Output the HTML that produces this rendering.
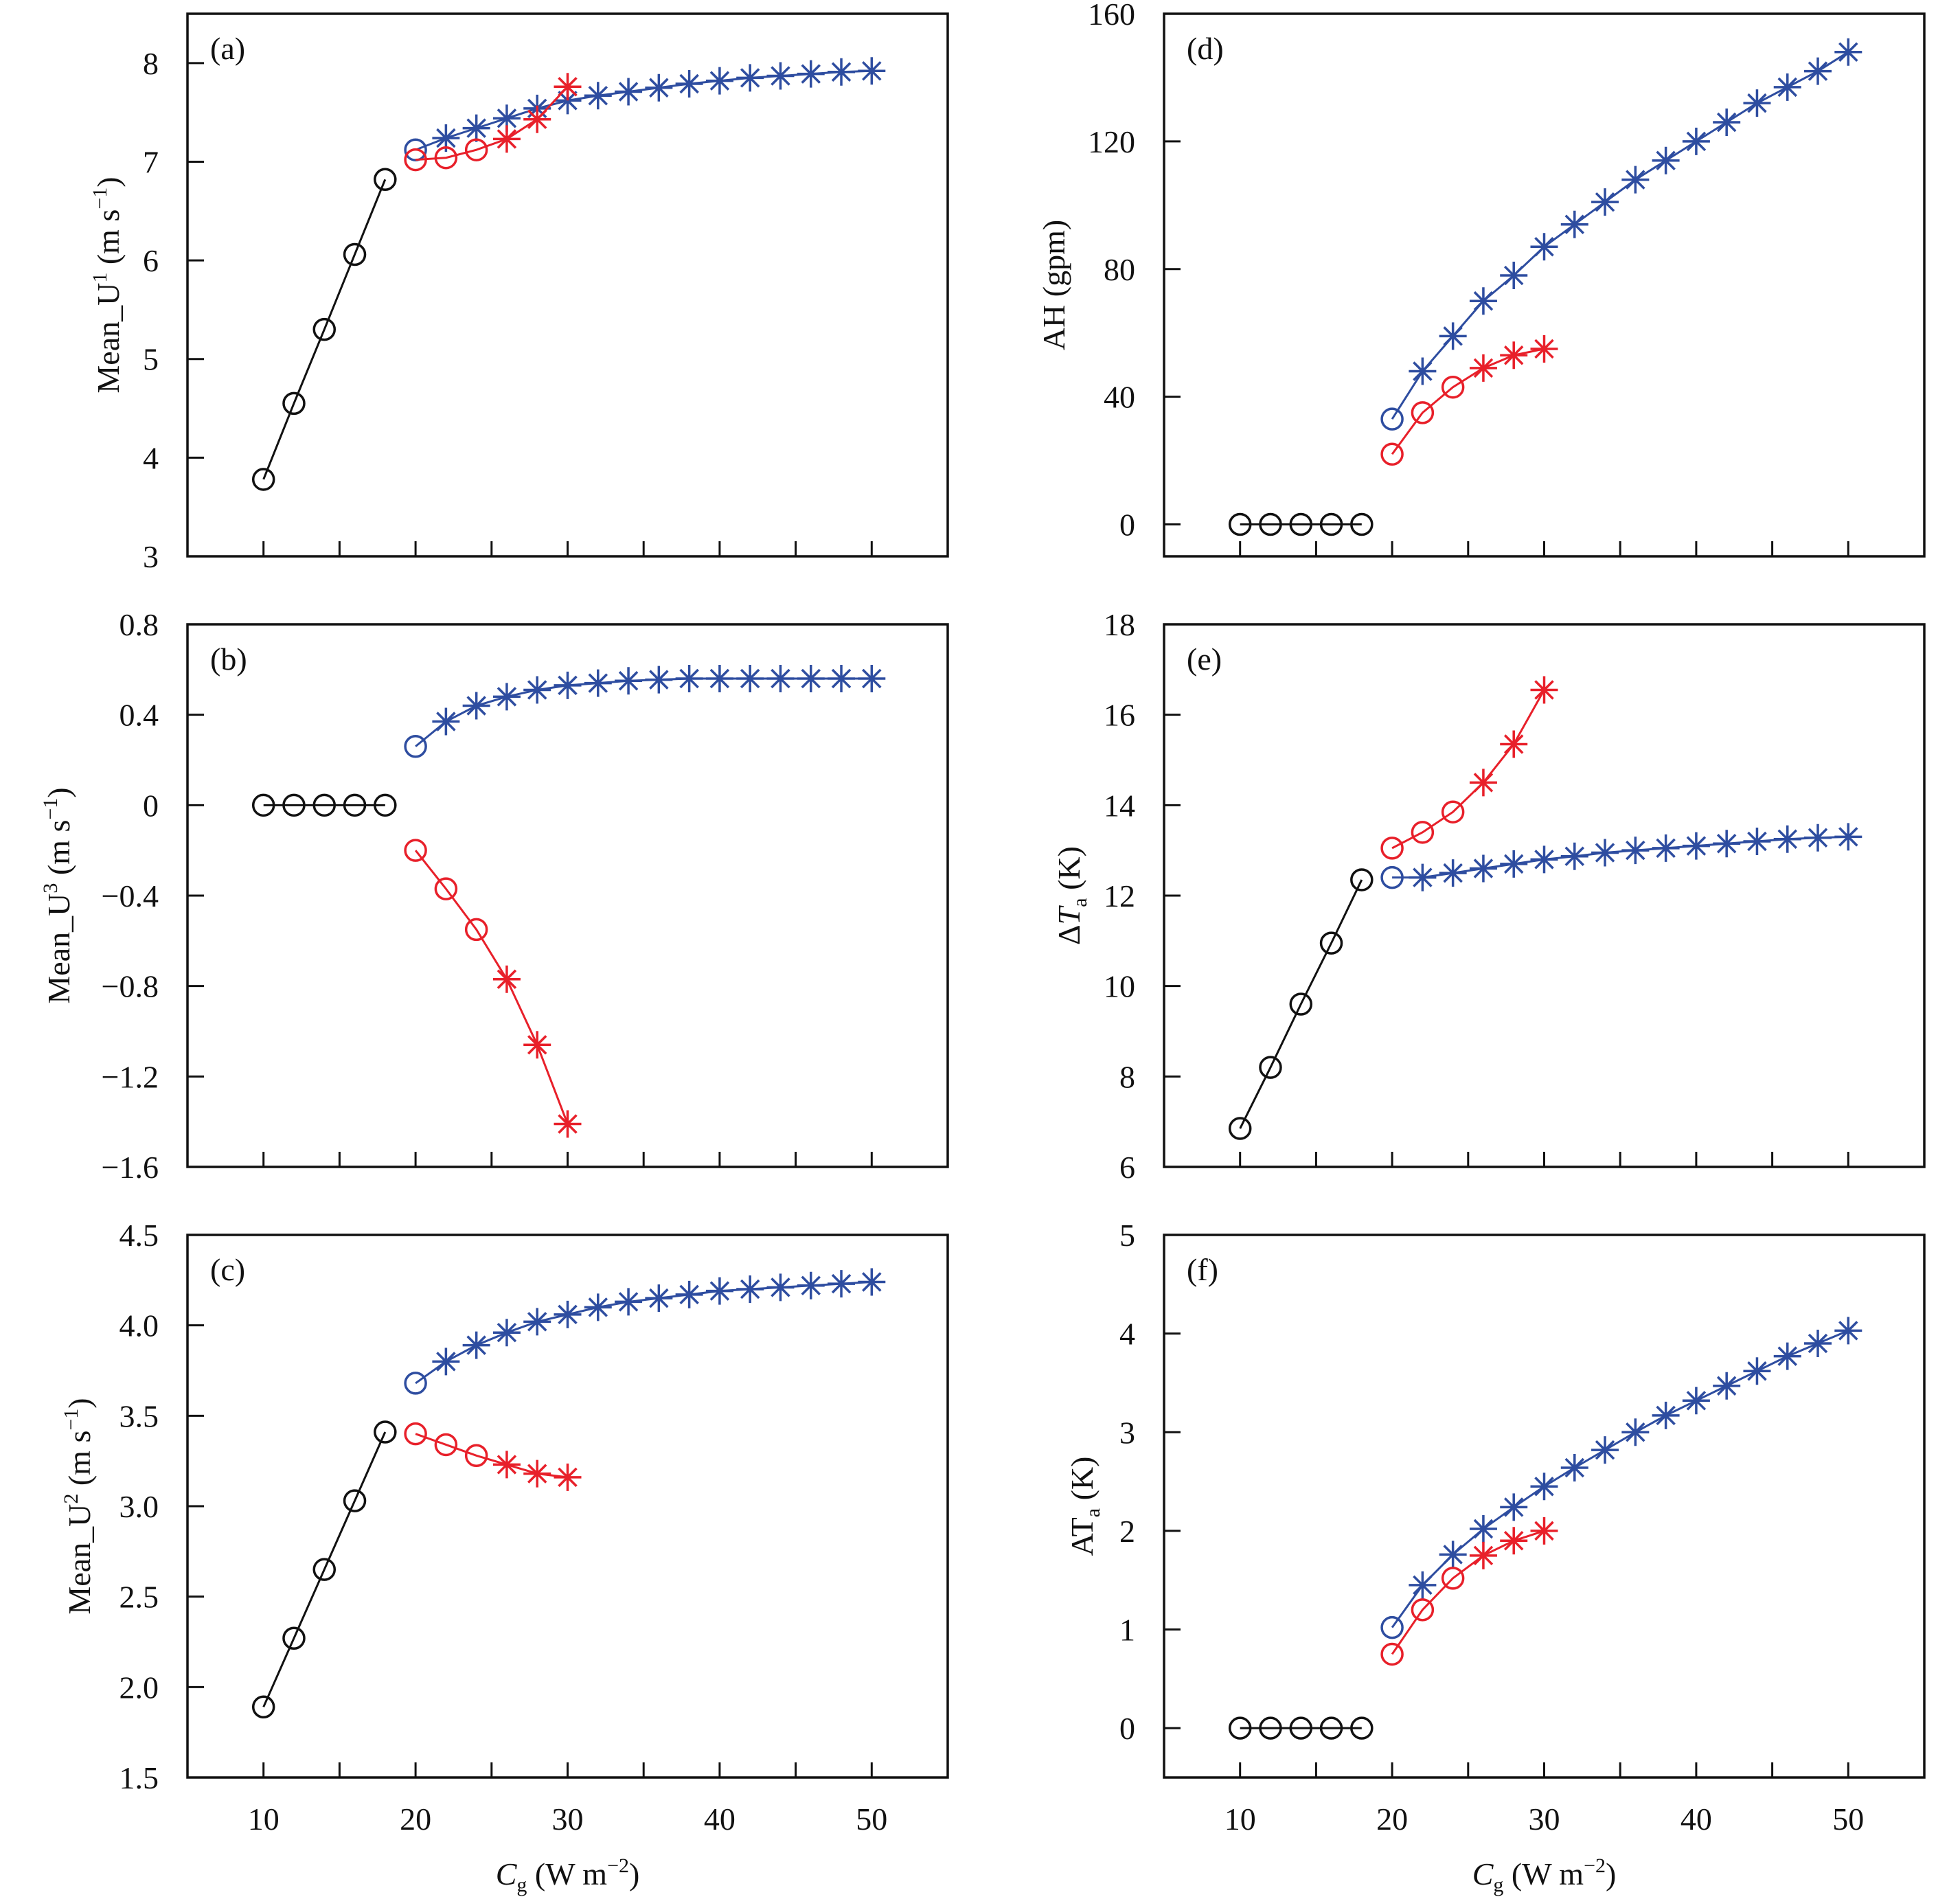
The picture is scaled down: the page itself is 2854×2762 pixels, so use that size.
<!DOCTYPE html>
<html><head><meta charset="utf-8"><style>
html,body{margin:0;padding:0;background:#fff}
svg{display:block;font-family:"Liberation Serif",serif}
</style></head><body>
<svg id="fig" width="2854" height="2762" viewBox="0 0 2854 2762" xmlns="http://www.w3.org/2000/svg"></svg>
<script>
const xBlack=[10,12,14,16,18];
const xRed=[20,22,24,26,28,30];
const xBlue=[20,22,24,26,28,30,32,34,36,38,40,42,44,46,48,50];
const xTicks=[10,15,20,25,30,35,40,45,50];
const xTickLabels=[10,20,30,40,50];

const aBlack=[3.78,4.55,5.3,6.06,6.82];
const aRed=[7.02,7.04,7.12,7.23,7.43,7.76];
const aBlue=[7.12,7.24,7.34,7.44,7.54,7.62,7.67,7.71,7.75,7.79,7.82,7.85,7.87,7.89,7.91,7.92];
const aTicks=["3","4","5","6","7","8"];

const bBlack=[0,0,0,0,0];
const bRed=[-0.2,-0.37,-0.55,-0.77,-1.06,-1.41];
const bBlue=[0.26,0.37,0.44,0.48,0.51,0.53,0.54,0.55,0.555,0.56,0.56,0.56,0.56,0.56,0.56,0.56];
const bTicks=["−1.6","−1.2","−0.8","−0.4","0","0.4","0.8"];

const cBlack=[1.89,2.27,2.65,3.03,3.41];
const cRed=[3.40,3.34,3.28,3.23,3.18,3.16];
const cBlue=[3.68,3.80,3.89,3.96,4.02,4.06,4.10,4.13,4.15,4.17,4.19,4.20,4.21,4.22,4.23,4.24];
const cTicks=["1.5","2.0","2.5","3.0","3.5","4.0","4.5"];

const dBlack=[0,0,0,0,0];
const dRed=[22,35,43,49,53,55];
const dBlue=[33,48,59,70,78,87,94,101,108,114,120,126,132,137,142,148];
const dTicks=["0","40","80","120","160"];

const eBlack=[6.85,8.2,9.6,10.95,12.35];
const eRed=[13.05,13.4,13.85,14.5,15.35,16.55];
const eBlue=[12.4,12.4,12.5,12.6,12.7,12.8,12.87,12.95,13.0,13.05,13.1,13.15,13.2,13.25,13.28,13.3];
const eTicks=["6","8","10","12","14","16","18"];

const fBlack=[0,0,0,0,0];
const fRed=[0.75,1.2,1.52,1.75,1.9,2.0];
const fBlue=[1.02,1.45,1.76,2.02,2.24,2.45,2.64,2.82,3.0,3.17,3.32,3.47,3.62,3.77,3.90,4.03];
const fTicks=["0","1","2","3","4","5"];

const NS="http://www.w3.org/2000/svg";
const svg=document.getElementById('fig');
function mk(tag,attrs,parent){const e=document.createElementNS(NS,tag);for(const k in attrs)e.setAttribute(k,attrs[k]);(parent||svg).appendChild(e);return e;}
const RED="#e8202a",BLUE="#2e4da0",BLACK="#111";

const panels=[
 {id:'a',x0:273,y0:20,ymin:3,ymax:8.5,ticks:aTicks,black:aBlack,red:aRed,blue:aBlue,lab:['Mean_U','1',' (m s','−1',')'],lx:173,bottom:false},
 {id:'b',x0:273,y0:909,ymin:-1.6,ymax:0.8,ticks:bTicks,black:bBlack,red:bRed,blue:bBlue,lab:['Mean_U','3',' (m s','−1',')'],lx:101,bottom:false},
 {id:'c',x0:273,y0:1798,ymin:1.5,ymax:4.5,ticks:cTicks,black:cBlack,red:cRed,blue:cBlue,lab:['Mean_U','2',' (m s','−1',')'],lx:131,bottom:true},
 {id:'d',x0:1695,y0:20,ymin:-10,ymax:160,ticks:dTicks,black:dBlack,red:dRed,blue:dBlue,lab:['AH (gpm)'],lx:1550,bottom:false},
 {id:'e',x0:1695,y0:909,ymin:6,ymax:18,ticks:eTicks,black:eBlack,red:eRed,blue:eBlue,lab:['ΔT','a',' (K)'],lx:1572,bottom:false,ital:true},
 {id:'f',x0:1695,y0:1798,ymin:-0.5,ymax:5,ticks:fTicks,black:fBlack,red:fRed,blue:fBlue,lab:['AT','a',' (K)'],lx:1591,bottom:true}
];
const W=1107,H=790,XMIN=5,XMAX=55;

panels.forEach(p=>{
 const g=mk('g',{});
 
 
 const sx=v=>p.x0+(v-XMIN)/(XMAX-XMIN)*W;
 const sy=v=>p.y0+H-(v-p.ymin)/(p.ymax-p.ymin)*H;
 const fr=mk('rect',{x:p.x0,y:p.y0,width:W,height:H,fill:'none',stroke:'#111','stroke-width':3.5},g);
 
 
 xTicks.forEach(t=>{const l=mk('line',{x1:sx(t),x2:sx(t),y1:p.y0+H,y2:p.y0+H-22,stroke:'#111','stroke-width':3},g);
  
  });
 p.ticks.forEach(t=>{const v=parseFloat(t.replace('−','-'));const y=sy(v);
  const l=mk('line',{x1:p.x0,x2:p.x0+24,y1:y,y2:y,stroke:'#111','stroke-width':3},g);
  
  
  const tx=mk('text',{x:p.x0-42,y:y+16,'text-anchor':'end','font-size':46,fill:'#111'},g);
  tx.textContent=t;
  
  });
 if(p.bottom){
  xTickLabels.forEach(t=>{const tx=mk('text',{x:sx(t),y:p.y0+H+76,'text-anchor':'middle','font-size':46,fill:'#111'},g);
   tx.textContent=t;
   
   });
  const xl=mk('text',{x:sx(30),y:p.y0+H+156,'text-anchor':'middle','font-size':46,fill:'#111'},g);
  
  
  const s1=mk('tspan',{'font-style':'italic'},xl);s1.textContent='C';
  const s2=mk('tspan',{'font-size':30,dy:10},xl);s2.textContent='g';
  const s3=mk('tspan',{dy:-10},xl);s3.textContent=' (W m';
  const s4=mk('tspan',{'font-size':30,dy:-18},xl);s4.textContent='−2';
  const s5=mk('tspan',{dy:18},xl);s5.textContent=')';
 }
 const pl=mk('text',{x:p.x0+33,y:p.y0+66,'font-size':46,fill:'#111'},g);
 pl.textContent='('+p.id+')';
 
 
 const cy=p.y0+H/2;
 const yl=mk('text',{x:0,y:0,'text-anchor':'middle','font-size':46,fill:'#111',transform:`translate(${p.lx},${cy}) rotate(-90)`},g);
 
 
 p.lab.forEach((s,i)=>{
  let a={};
  if(p.lab.length>1 && i%2===1){a={'font-size':30,dy:(p.id==='e'||p.id==='f')?10:-18};}
  else if(i>0){a={dy:(p.id==='e'||p.id==='f')?-10:18};}
  if(p.ital&&i===0){const t1=mk('tspan',{},yl);t1.textContent='Δ';const t2=mk('tspan',{'font-style':'italic'},yl);t2.textContent='T';return;}
  const t=mk('tspan',a,yl);t.textContent=s;});

 function series(xs,ys,col,name,circleCount){
  const pts=xs.map((x,i)=>sx(x)+','+sy(ys[i])).join(' ');
  const l=mk('polyline',{points:pts,fill:'none',stroke:col,'stroke-width':3},g);
  
  
  xs.forEach((x,i)=>{const X=sx(x),Y=sy(ys[i]);
   if(i<circleCount){const c=mk('circle',{cx:X,cy:Y,r:15,fill:'none',stroke:col,'stroke-width':3.5},g);
    
    }
   else{const m=mk('path',{d:`M${X-20},${Y}H${X+20}M${X},${Y-20}V${Y+20}M${X-13},${Y-13}L${X+13},${Y+13}M${X-13},${Y+13}L${X+13},${Y-13}`,stroke:col,'stroke-width':3.5,fill:'none'},g);
    
    }
  });
 }
 series(xBlack,p.black,BLACK,'black-series',5);
 series(xBlue,p.blue,BLUE,'blue-series',1);
 series(xRed,p.red,RED,'red-series',3);
});
</script>
</body></html>
